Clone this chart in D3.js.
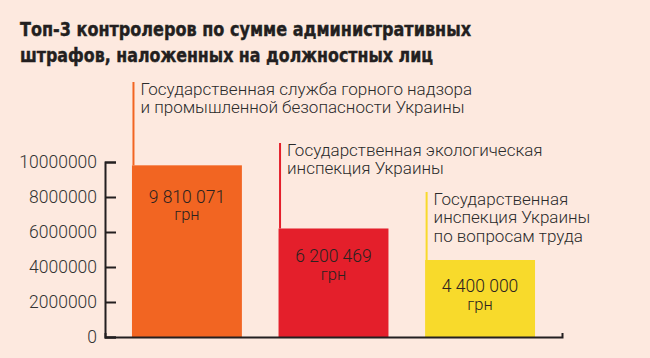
<!DOCTYPE html>
<html>
<head>
<meta charset="utf-8">
<script src="https://cdn.jsdelivr.net/npm/d3@7"></script>
<style>
  html, body { margin: 0; padding: 0; background: #fde9df; }
  svg { display: block; }
</style>
</head>
<body>
<div id="chart"></div>
<script>
var titleLines = [
  "Топ-3 контролеров по сумме административных",
  "штрафов, наложенных на должностных лиц",
];

var categories = [
  "Государственная служба горного надзора и промышленной безопасности Украины",
  "Государственная экологическая инспекция Украины",
  "Государственная инспекция Украины по вопросам труда",
];

var categoryLines = [
  ["Государственная служба горного надзора", "и промышленной безопасности Украины"],
  ["Государственная экологическая", "инспекция Украины"],
  ["Государственная", "инспекция Украины", "по вопросам труда"],
];

var values = [9810071, 6200469, 4400000];

var unit = "грн";

var yTicks = [0, 2000000, 4000000, 6000000, 8000000, 10000000];

var colors = ["#f26522", "#e41f2b", "#f8da2b"];

// where the annotation leader lines start (px from top)
var leaderTop = [82, 143, 192];

// title line widths, squeezed like the condensed original
var titleWidths = [451, 413];

var width = 650,
  height = 358;

var svg = d3
  .select("#chart")
  .append("svg")
  .attr("width", width)
  .attr("height", height);

svg
  .append("rect")
  .attr("width", width)
  .attr("height", height)
  .attr("fill", "#fde9df");

svg
  .append("g")
  .selectAll("text")
  .data(titleLines)
  .enter()
  .append("text")
  .attr("x", 20)
  .attr("y", (d, i) => 36 + i * 26)
  .attr("font-family", "DejaVu Sans Condensed, DejaVu Sans")
  .attr("font-stretch", "condensed")
  .attr("font-weight", 700)
  .attr("font-size", 20)
  .attr("textLength", (d, i) => titleWidths[i])
  .attr("lengthAdjust", "spacingAndGlyphs")
  .attr("fill", "#231f20")
  .attr("stroke", "#231f20")
  .attr("stroke-width", 0.4)
  .text((d) => d);

var xScale = d3
  .scaleBand()
  .domain(categories)
  .range([105, 562])
  .paddingInner(0.25)
  .paddingOuter(0.184);

var yScale = d3.scaleLinear().domain([0, 10000000]).range([337, 162]);

var fmt = d3.formatLocale({ thousands: " ", grouping: [3], decimal: "," }).format(",d");

var bars = svg
  .append("g")
  .selectAll("g")
  .data(categories)
  .enter()
  .append("g");

bars
  .append("rect")
  .attr("x", (d) => xScale(d))
  .attr("y", (d, i) => yScale(values[i]))
  .attr("width", xScale.bandwidth())
  .attr("height", (d, i) => yScale(0) - yScale(values[i]))
  .attr("fill", (d, i) => colors[i]);

bars
  .append("line")
  .attr("x1", (d) => xScale(d) + 1.5)
  .attr("x2", (d) => xScale(d) + 1.5)
  .attr("y1", (d, i) => leaderTop[i])
  .attr("y2", (d, i) => yScale(values[i]))
  .attr("stroke", (d, i) => colors[i])
  .attr("stroke-width", 2);

bars.each(function (d, i) {
  var g = d3.select(this);
  var x0 = xScale(d);
  g.append("g")
    .selectAll("text")
    .data(categoryLines[i])
    .enter()
    .append("text")
    .attr("x", x0 + 8.5)
    .attr("y", (t, j) => leaderTop[i] + 12.5 + j * 18.5)
    .attr("font-family", "Roboto")
    .attr("font-weight", 300)
    .attr("font-size", 17)
    .attr("fill", "#2b2b2b")
    .text((t) => t);

  var top = yScale(values[i]);
  var h = yScale(0) - top;
  var base = top + 28 + 0.055 * h;
  var cx = x0 + xScale.bandwidth() / 2;
  g.append("text")
    .attr("x", cx)
    .attr("y", base)
    .attr("text-anchor", "middle")
    .attr("font-family", "Roboto")
    .attr("font-weight", 300)
    .attr("font-size", 17.5)
    .attr("fill", "#2b2220")
    .text(fmt(values[i]));
  g.append("text")
    .attr("x", cx)
    .attr("y", base + 17.5)
    .attr("text-anchor", "middle")
    .attr("font-family", "Roboto")
    .attr("font-weight", 300)
    .attr("font-size", 16.5)
    .attr("fill", "#2b2220")
    .text(unit);
});

var yAxis = d3
  .axisLeft(yScale)
  .tickValues(yTicks)
  .tickFormat(d3.format("d"))
  .tickSize(-11)
  .tickSizeOuter(-11)
  .tickPadding(8);

var yG = svg.append("g").attr("transform", "translate(105,0)").call(yAxis);

var xAxis = d3.axisBottom(xScale).tickValues([]).tickSizeOuter(-4);

var xG = svg.append("g").attr("transform", "translate(0,337)").call(xAxis);

[yG, xG].forEach((g) => {
  g.select(".domain").attr("stroke", "#231f20").attr("stroke-width", 2);
  g.selectAll(".tick line").attr("stroke", "#231f20").attr("stroke-width", 2);
  g.selectAll("text")
    .attr("font-family", "Roboto")
    .attr("font-weight", 300)
    .attr("font-size", 17.5)
    .attr("fill", "#333");
});
</script>
</body>
</html>
